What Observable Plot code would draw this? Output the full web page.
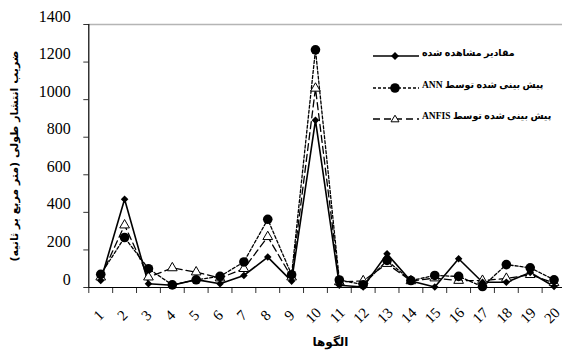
<!DOCTYPE html>
<html><head><meta charset="utf-8">
<script src="https://cdn.jsdelivr.net/npm/d3@7"></script>
<script src="https://cdn.jsdelivr.net/npm/@observablehq/plot@0.6"></script>
<style>
body{margin:0;background:#fff;}
#wrap{position:relative;width:562px;height:356px;overflow:hidden;font-family:"Liberation Serif","DejaVu Sans",serif;}
#wrap svg{display:block;}
.leg{position:absolute;left:373px;display:flex;align-items:center;height:20px;}
.leg svg{flex:none;}
.leg span{direction:rtl;unicode-bidi:embed;font-size:9.5px;font-weight:bold;margin-left:3px;position:relative;top:-4px;white-space:nowrap;color:#000;}
</style></head><body><div id="wrap"></div>
<script>
const patterns = [1,2,3,4,5,6,7,8,9,10,11,12,13,14,15,16,17,18,19,20];
const observed = [37,470,20,12,42,20,64,162,34,890,12,3,179,35,3,153,28,28,80,5];
const ann      = [70,266,100,14,41,59,136,363,68,1265,40,15,144,37,64,59,5,122,105,41];
const anfis    = [55,332,55,104,82,50,100,270,55,1060,30,35,127,35,50,37,37,48,68,25];
const yTicks = [0,200,400,600,800,1000,1200,1400];
const seriesNames = ["مقادیر مشاهده شده","پیش بینی شده توسط ANN","پیش بینی شده توسط ANFIS"];
const yTitle = "ضریب انتشار طولی (متر مربع بر ثانیه)";
const xTitle = "الگوها";

const rows = patterns.map((p,i)=>({p, obs:observed[i], ann:ann[i], anfis:anfis[i]}));
const boundaries = patterns.map(p=>p-0.5).concat([patterns[patterns.length-1]+0.5]);
const xMin = 0.5, xMax = 20.5;
const xTickLen = -32;          // tick length below the axis, in value units (~6px)
const yTickLen = 0.5 - 0.21;   // tick end left of the axis, in category units (~5px)
const serif = "Liberation Serif";
const faFont = "DejaVu Sans";

const chart = Plot.plot({
  width:562, height:356, marginLeft:88, marginRight:0, marginTop:24, marginBottom:69,
  x:{type:"linear", domain:[xMin,xMax], range:[88.3,565.5], axis:null},
  y:{domain:[0,1400], range:[287,24], axis:null},
  marks:[
    Plot.ruleY([1400], {x1:xMin, x2:xMax, stroke:"#b5b5b5", strokeWidth:1.3}),
    Plot.ruleX(boundaries, {x:d=>d, y1:()=>0, y2:()=>xTickLen, stroke:"#333", strokeWidth:1}),
    Plot.ruleY(yTicks, {y:d=>d, x1:()=>xMin, x2:()=>yTickLen, stroke:"#333", strokeWidth:1}),
    Plot.text(yTicks, {y:d=>d, x:()=>xMin, text:d=>String(d), textAnchor:"end", dx:-18, dy:-8, fontSize:16, fontFamily:serif}),
    Plot.ruleY([0], {x1:xMin, x2:xMax, stroke:"black", strokeWidth:1.2}),
    Plot.ruleX([xMin], {y1:0, y2:1400, stroke:"black", strokeWidth:1.2}),
    Plot.line(rows, {x:"p", y:"anfis", stroke:"black", strokeWidth:1.3, strokeDasharray:"7,4"}),
    Plot.line(rows, {x:"p", y:"ann", stroke:"black", strokeWidth:1.3, strokeDasharray:"3,2"}),
    Plot.line(rows, {x:"p", y:"obs", stroke:"black", strokeWidth:1.6}),
    Plot.dot(rows, {x:"p", y:"anfis", symbol:"triangle", r:3.6, fill:"white", stroke:"black", strokeWidth:1}),
    Plot.dot(rows, {x:"p", y:"ann", r:4.8, fill:"black", stroke:"none"}),
    Plot.dot(rows, {x:"p", y:"obs", symbol:"diamond2", r:3.4, fill:"black", stroke:"none"}),
    Plot.text(patterns, {x:d=>d, y:()=>0, text:d=>String(d), dy:28, dx:-2, rotate:-45, textAnchor:"middle", fontSize:15, fontFamily:serif}),
    Plot.text([yTitle], {frameAnchor:"left", textAnchor:"middle", rotate:-90, dx:-74, fontSize:11, fontWeight:"bold", fontFamily:faFont}),
    Plot.text([xTitle], {frameAnchor:"bottom", textAnchor:"middle", dy:58, dx:5, fontSize:12, fontWeight:"bold", fontFamily:faFont})
  ]
});
const wrap = document.getElementById("wrap");
wrap.appendChild(chart);

// legend
const legStyles = [
  {dash:null, sym:"diamond"},
  {dash:"3,2", sym:"circle"},
  {dash:"7,4", sym:"triangle"}
];
const legTops = [46, 78, 109];
seriesNames.forEach((name,i)=>{
  const d = document.createElement("div");
  d.className = "leg";
  d.style.top = legTops[i]+"px";
  const st = legStyles[i];
  let sym = "";
  if (st.sym==="diamond") sym = '<path d="M22,6 L26,10 L22,14 L18,10 Z" fill="black"/>';
  else if (st.sym==="circle") sym = '<circle cx="22" cy="10" r="4.8" fill="black"/>';
  else sym = '<path d="M22,6.2 L26,12.8 L18,12.8 Z" fill="white" stroke="black" stroke-width="1"/>';
  d.innerHTML = '<svg width="46" height="20"><line x1="0" x2="46" y1="10" y2="10" stroke="black" stroke-width="'+(i===0?1.6:1.3)+'"'+(st.dash?' stroke-dasharray="'+st.dash+'"':'')+'/>'+sym+'</svg><span dir="rtl">\u202B'+name+'\u202C</span>';
  wrap.appendChild(d);
});
</script>
</body></html>
